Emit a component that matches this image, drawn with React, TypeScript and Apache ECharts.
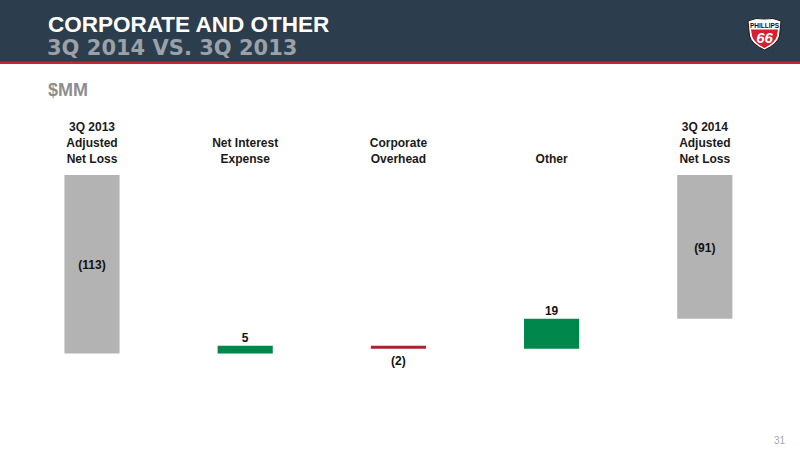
import React, { useEffect, useRef } from "react";
import * as echarts from "echarts";

const categories = [
  "3Q 2013\nAdjusted\nNet Loss",
  "Net Interest\nExpense",
  "Corporate\nOverhead",
  "Other",
  "3Q 2014\nAdjusted\nNet Loss",
];
const startTotal = -113;
const deltas = [5, -2, 19];
const endTotal = -91;

const titleText = "CORPORATE AND OTHER";
const subtitleText = "3Q 2014 VS. 3Q 2013";
const unitText = "$MM";
const pageNumber = "31";

const COLORS = { total: "#b3b3b3", up: "#00874b", down: "#a6242c" };
const FONT = "'Liberation Sans Narrow', 'Liberation Sans', Arial, sans-serif";

function fmt(v: number) {
  return v < 0 ? `(${Math.abs(v)})` : `${v}`;
}

function buildRows() {
  const rows: number[][] = [];
  rows.push([0, 0, startTotal, startTotal]);
  let running = startTotal;
  deltas.forEach((d, i) => {
    rows.push([i + 1, running, running + d, d]);
    running += d;
  });
  rows.push([deltas.length + 1, 0, endTotal, endTotal]);
  return rows;
}

const shieldPath =
  "M2,5 Q10,1 18.5,3 Q27,1 35,5 L33.5,20 Q31.5,28 18.5,34 Q5.5,28 3.5,20 Z";
const shieldRedPath =
  "M5,13.5 L32,13.5 L31,20 Q29.5,26.5 18.5,32 Q7.5,26.5 6,20 Z";

export default function App() {
  const ref = useRef<HTMLDivElement>(null);
  useEffect(() => {
    if (!ref.current) return;
    try {
      echarts.graphic.registerShape("shield", echarts.graphic.extendPath(shieldPath, {}) as any);
      echarts.graphic.registerShape("shieldRed", echarts.graphic.extendPath(shieldRedPath, {}) as any);
    } catch (e) {}
    const chart = echarts.init(ref.current, undefined, { renderer: "svg" });
    const rows = buildRows();
    const lastIdx = rows.length - 1;

    chart.setOption({
      animation: false,
      backgroundColor: "#ffffff",
      grid: { left: 15.4, right: 18.6, top: 175, bottom: 38 },
      xAxis: {
        type: "category",
        position: "top",
        data: categories,
        axisLine: { show: false },
        axisTick: { show: false },
        axisLabel: {
          interval: 0,
          margin: 8,
          color: "#1a1a1a",
          fontFamily: FONT,
          fontWeight: "bold",
          fontSize: 12,
          lineHeight: 16,
        },
      },
      yAxis: {
        type: "value",
        min: -150,
        max: 0,
        show: false,
        splitLine: { show: false },
      },
      series: [
        {
          type: "custom",
          data: rows,
          encode: { x: 0, y: [1, 2] },
          renderItem: (params: any, api: any) => {
            const idx = api.value(0);
            const a = api.value(1);
            const b = api.value(2);
            const v = api.value(3);
            const pA = api.coord([idx, a]);
            const pB = api.coord([idx, b]);
            const bw = api.size([1, 0])[0] * 0.36;
            const top = Math.min(pA[1], pB[1]);
            const bot = Math.max(pA[1], pB[1]);
            const cx = pA[0];
            const isTotal = params.dataIndex === 0 || params.dataIndex === lastIdx;
            const color = isTotal ? COLORS.total : v > 0 ? COLORS.up : COLORS.down;
            let ly = (top + bot) / 2 + 1;
            if (!isTotal) ly = v > 0 ? top - 8 : bot + 12;
            return {
              type: "group",
              children: [
                {
                  type: "rect",
                  shape: { x: cx - bw / 2, y: top, width: bw, height: bot - top },
                  style: { fill: color },
                },
                {
                  type: "text",
                  x: cx,
                  y: ly,
                  style: {
                    text: fmt(v),
                    fill: "#111111",
                    fontFamily: FONT,
                    fontWeight: "bold",
                    fontSize: 12,
                    align: "center",
                    verticalAlign: "middle",
                  },
                },
              ],
            };
          },
        },
      ],
      graphic: [
        { type: "rect", left: 0, top: 0, shape: { width: 800, height: 62 }, style: { fill: "#2c3d4d" }, silent: true },
        { type: "rect", left: 0, top: 61.5, shape: { width: 800, height: 2.5 }, style: { fill: "#c8252f" }, silent: true },
        {
          type: "text",
          x: 48,
          y: 24,
          style: {
            text: titleText,
            fill: "#ffffff",
            fontFamily: "'Liberation Sans', Arial, sans-serif",
            fontSize: 22.5,
            fontWeight: "bold",
            verticalAlign: "middle",
          },
        },
        {
          type: "text",
          x: 47,
          y: 48,
          style: {
            text: subtitleText,
            fill: "#9ba1a7",
            fontFamily: "'DejaVu Sans', 'Liberation Sans', sans-serif",
            fontSize: 21,
            fontWeight: "bold",
            verticalAlign: "middle",
          },
        },
        {
          type: "text",
          x: 48,
          y: 89.5,
          style: {
            text: unitText,
            fill: "#8e8e8e",
            fontFamily: "'Liberation Sans', Arial, sans-serif",
            fontSize: 18,
            fontWeight: "bold",
            verticalAlign: "middle",
          },
        },
        {
          type: "group",
          x: 746,
          y: 16,
          children: [
            { type: "shield", style: { fill: "#ffffff", stroke: "#1a1a1a", lineWidth: 1 } },
            { type: "shieldRed", style: { fill: "#d71f2f" } },
            {
              type: "text",
              x: 18.5,
              y: 9,
              style: {
                text: "PHILLIPS",
                fill: "#111111",
                fontFamily: "'Liberation Sans Narrow', 'Liberation Sans', Arial, sans-serif",
                fontSize: 6.5,
                fontWeight: "bold",
                align: "center",
                verticalAlign: "middle",
              },
            },
            {
              type: "text",
              x: 18.5,
              y: 21.5,
              style: {
                text: "66",
                fill: "#ffffff",
                fontFamily: "'Liberation Sans', Arial, sans-serif",
                fontSize: 15,
                fontWeight: "bold",
                fontStyle: "italic",
                align: "center",
                verticalAlign: "middle",
              },
            },
          ],
        },
        {
          type: "text",
          x: 785,
          y: 440,
          style: {
            text: pageNumber,
            fill: "#a8a8a8",
            fontFamily: "'Liberation Sans', Arial, sans-serif",
            fontSize: 10,
            align: "right",
            verticalAlign: "middle",
          },
        },
      ],
    });
    return () => chart.dispose();
  }, []);
  return <div ref={ref} style={{ width: 800, height: 450, position: "fixed", left: 0, top: 0 }} />;
}
